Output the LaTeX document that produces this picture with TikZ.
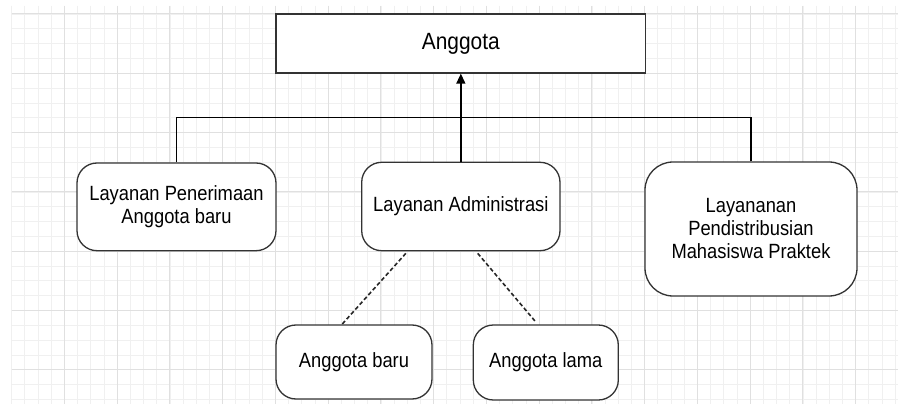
\documentclass[tikz,border=0pt]{standalone}
\usepackage{fontspec}
\setmainfont{Liberation Sans}[FakeStretch=0.89]
\usetikzlibrary{arrows.meta,calc}
\begin{document}
\begin{tikzpicture}[x=1pt,y=-1pt,
  box/.style={draw=black!80, line width=1.3pt, fill=white, inner sep=0pt, align=center, font=\fontsize{20.6}{23}\selectfont},
  rbox/.style={box, rounded corners=20pt},
  conn/.style={line width=1.3pt, black},
  dconn/.style={line width=1.6pt, black!85, dash pattern=on 4pt off 2.5pt},
  gridminor/.style={draw=black!6, line width=0.8pt},
  gridmajor/.style={draw=black!12, line width=1pt}]
\useasboundingbox (0,0) rectangle (898,404);
\fill[white] (0,0) rectangle (898,404);
\begin{scope}
\clip (11.7,6) rectangle (898,404);
\foreach \i in {0,...,67} \draw[gridminor] ({11.7+\i*13.1875},6) -- ++(0,398);
\foreach \j in {0,...,26} \draw[gridminor] (11.7,{14+\j*14.825}) -- ++(886.3,0);
\foreach \i in {0,...,16} \draw[gridmajor] ({11.7+\i*52.75},6) -- ++(0,398);
\foreach \j in {0,...,6} \draw[gridmajor] (11.7,{14+\j*59.3}) -- ++(886.3,0);
\end{scope}

\node[box, minimum width=369.7pt, minimum height=59pt, font=\fontsize{23.5}{26}\selectfont] (ang) at (460.85,43.5) {Anggota};
\node[rbox, minimum width=199pt, minimum height=87.7pt] (pen) at (176.5,206.85) {Layanan Penerimaan\\Anggota baru};
\node[rbox, minimum width=198.3pt, minimum height=88.4pt] (adm) at (460.85,206.5) {Layanan Administrasi};
\node[rbox, rounded corners=28pt, minimum width=212pt, minimum height=134pt] (lay) at (751,229) {Layananan\\Pendistribusian\\Mahasiswa Praktek};
\node[rbox, minimum width=156pt, minimum height=74pt] (baru) at (354,362) {Anggota baru};
\node[rbox, minimum width=145pt, minimum height=75pt] (lama) at (545.8,362.5) {Anggota lama};

\coordinate (bus) at (460.85,117.7);
\draw[conn, -{Triangle[length=10pt,width=9pt]}] (adm.north) -- (ang.south);
\draw[conn] (pen.north) -- (pen.north |- bus) -| (lay.north);
\draw[dconn] ($(adm.south)+(-55,2)$) -- ($(baru.north)+(-12,0)$);
\draw[dconn] ($(adm.south)+(16.85,2)$) -- ($(lama.north)+(-10.8,-3.3)$);
\end{tikzpicture}
\end{document}
